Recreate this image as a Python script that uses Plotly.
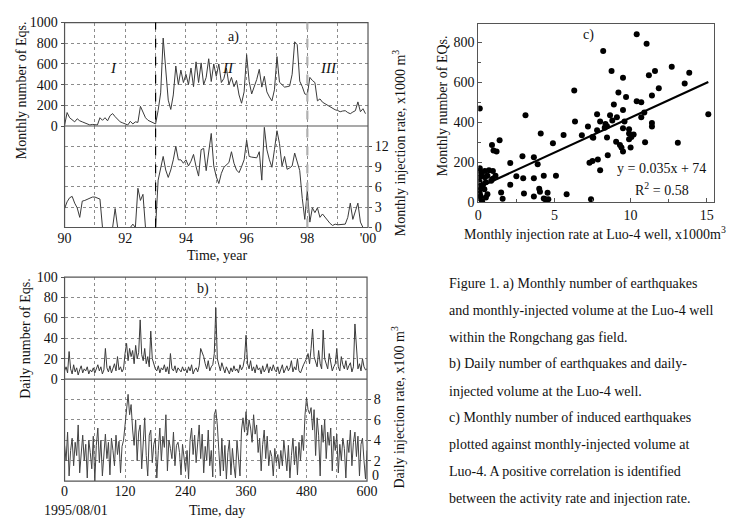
import plotly.graph_objects as go

W, H = 741, 525
FONT = "Liberation Serif, Times New Roman, serif"

# ---------------- Panel a: monthly data 1990-2000 ----------------
eq_monthly = [
    5, 130, 80, 60, 40, 70, 50, 40, 30, 20, 10, 15,            # 1990
    15, 10, 80, 55, 80, 50, 100, 120, 90, 60, 40, 30,          # 1991
    20, 10, 45, 20, 40, 35, 190, 140, 80, 55, 45, 30,          # 1992
    20, 150, 320, 850, 560, 250, 160, 300, 580, 400, 540, 420, # 1993
    500, 400, 560, 380, 620, 420, 610, 400, 470, 650, 430, 600,# 1994
    480, 600, 420, 460, 560, 400, 470, 380, 440, 300, 220, 330,# 1995
    690, 430, 310, 380, 450, 548, 376, 480, 330, 281, 243, 350,# 1996
    671, 423, 400, 376, 380, 386, 500, 814, 786, 433, 380, 310,# 1997
    300, 470, 440, 420, 243, 262, 230, 214, 200, 186, 170, 157,# 1998
    150, 138, 145, 148, 130, 119, 135, 148, 233, 138, 167, 119,# 1999
]
inj_monthly = [
    2.8, 3.8, 4.4, 4.6, 3.6, 2.9, 1.5, 3.9, 4.0, 4.2, 4.3, 4.5,
    4.5, 4.4, 4.2, 0, 0, 0, 0, 0, 2.8, 0, 0, 0,
    0, 0, 0, 0.5, 0, 5.8, 4.0, 4.9, 0, 0, 0, 0,
    0, 7.0, 9.0, 10.5, 8.5, 7.4, 8.5, 10.0, 12.0, 10.0, 10.0, 9.5,
    10.0, 9.1, 9.8, 10.8, 9.0, 7.6, 11.5, 11.7, 8.4, 11.0, 13.9, 9.1,
    7.5, 6.5, 8.0, 8.9, 9.2, 9.6, 11.2, 9.5, 8.5, 8.1, 9.0, 10.0,
    12.9, 10.5, 10.4, 10.3, 10.3, 11.2, 7.0, 14.8, 11.5, 10.0, 8.9, 11.5,
    14.3, 12.4, 9.1, 10.5, 8.6, 8.8, 9.1, 11.0, 9.5, 8.4, 4.3, 1.2,
    5.5, 0.8, 2.9, 2.2, 2.9, 1.5, 2.0, 1.5, 1.0, 0.6, 0.3, 0.5,
    0.4, 0.4, 0.4, 0.5, 1.5, 3.6, 1.2, 2.5, 3.6, 0.8, 0, 0,
]
years_a = [90 + m / 12 for m in range(len(eq_monthly))]
year_ticks = [90, 92, 94, 96, 98, 100]
year_labels = ["90", "92", "94", "96", "98", "'00"]
phase_bounds = [93.0, 98.0]
phase_names = ["I", "II", "III"]
phase_label_x = [91.6, 95.4, 98.7]

# ---------------- Panel b: daily data (every 3rd day) ----------------
eq_daily = [
    8, 12, 6, 27, 10, 5, 14, 7, 11, 4, 9, 13, 6, 10, 8, 12, 5, 9, 7, 11,
    6, 10, 14, 8, 12, 5, 9, 30, 11, 7, 13, 6, 10, 15, 8, 22, 9, 12, 7, 10,
    25, 35, 18, 30, 22, 28, 15, 33, 20, 26, 58, 24, 18, 30, 15, 22, 12, 47, 20, 14,
    10, 8, 13, 6, 11, 9, 14, 7, 12, 5, 25, 10, 8, 13, 6, 11, 9, 7, 12, 8,
    10, 6, 12, 8, 14, 5, 9, 11, 7, 13, 30, 26, 22, 15, 10, 18, 8, 12, 14, 25,
    70, 20, 12, 8, 16, 10, 6, 12, 9, 5, 11, 7, 13, 8, 10, 6, 14, 9, 12, 20,
    43, 15, 10, 18, 8, 12, 6, 14, 9, 11, 5, 13, 7, 10, 15, 6, 12, 8, 14, 9,
    7, 12, 5, 10, 14, 6, 9, 13, 8, 11, 18, 7, 12, 9, 20, 8, 6, 11, 14, 17,
    20, 25, 15, 30, 49, 22, 18, 12, 28, 15, 10, 48, 20, 14, 10, 25, 16, 8, 12, 15,
    30, 12, 8, 22, 14, 10, 18, 9, 13, 16, 7, 12, 54, 25, 10, 15, 8, 20, 12, 9,
    10,
]
inj_daily = [
    3.5, 2.0, 4.8, 0.5, 3.0, 4.2, 1.5, 3.8, 2.5, 5.5, 0.8, 3.2, 4.5, 2.0, 3.6, 0.3, 4.0, 2.8, 1.2, 4.4,
    0.0, 3.5, 5.2, 1.8, 4.0, 0.5, 3.2, 4.6, 2.2, 3.8, 0.6, 4.2, 3.0, 1.5, 4.5, 2.6, 3.9, 0.8, 3.4, 4.0,
    5.5, 7.0, 8.5, 6.5, 7.5, 5.0, 3.5, 6.0, 2.0, 4.8, 5.5, 1.2, 4.0, 6.2, 2.5, 0.5, 4.5, 5.0, 1.8, 3.6,
    4.2, 0.3, 3.0, 5.2, 2.0, 4.4, 3.3, 6.5, 1.0, 4.0, 3.2, 2.2, 4.8, 1.5, 3.5, 3.8, 2.8, 0.6, 3.6, 2.4,
    1.0, 3.0, 0.2, 4.0, 5.2, 2.6, 4.5, 1.8, 3.8, 5.5, 2.2, 4.6, 0.8, 3.4, 2.0, 5.0, 1.5, 3.0, 0.4, 6.5,
    7.0, 5.5, 3.0, 0.5, 4.2, 1.0, 3.5, 0.2, 2.8, 4.0, 0.6, 3.2, 1.5, 0.3, 4.0, 2.0, 0.5, 5.0, 6.2, 4.8,
    6.8, 4.5, 6.0, 5.2, 3.8, 6.5, 4.6, 5.5, 2.8, 4.2, 1.0, 3.6, 5.0, 2.2, 4.4, 1.5, 3.0, 2.4, 0.5, 3.2,
    1.8, 2.6, 1.2, 3.0, 1.5, 4.0, 2.2, 1.0, 3.5, 0.3, 2.5, 4.2, 1.6, 3.4, 0.6, 3.8, 2.0, 4.5, 3.0, 6.5,
    8.2, 7.0, 6.6, 7.2, 5.0, 7.0, 2.5, 6.2, 4.5, 0.5, 5.5, 3.8, 6.0, 2.2, 4.8, 3.5, 5.2, 1.0, 4.4, 3.0,
    4.6, 0.8, 3.6, 2.0, 4.2, 3.2, 0.3, 4.0, 2.8, 5.0, 1.5, 3.8, 4.8, 2.4, 4.4, 0.5, 3.6, 4.2, 2.0, 0.2,
    3.0,
]
days_b = list(range(0, 601, 3))
day_ticks = [0, 120, 240, 360, 480, 600]
day_labels = ["0", "120", "240", "360", "480", "600"]
inj_daily_ticks = [2, 4, 6, 8]

# ---------------- Panel c: scatter ----------------
inj_rate_c = [
    0.1, 0.1, 0.43, 0.7, 0.96, 0.1, 0.43, 0.6, 1.13, 0.1, 0.5, 0.1, 0.4, 0.1, 0.5, 0.1,
    0.85, 0.95, 0.2, 0.3, 0.15, 0.05, 0.25, 0.6, 0.1,
    0.9, 1.4, 1.0, 1.2, 2.1, 2.9, 3.65, 3.9, 7.3, 2.5, 2.95, 3.65, 4.3, 5.1, 2.1, 1.5,
    3.0, 3.65, 4.0, 4.05, 4.55, 5.8, 4.3, 4.4, 4.6, 1.6, 7.4,
    6.3, 3.1, 6.35, 7.2, 7.5, 4.1, 5.6, 6.8, 4.9,
    10.4, 11.05, 8.2, 8.75, 9.5, 11.2, 11.6, 12.7, 13.85, 13.55, 11.85, 11.4, 9.2, 9.7,
    10.4, 10.7, 8.9, 9.5, 8.65, 7.8, 9.1, 10.9, 10.7, 11.4, 11.4, 15.1, 8.0, 8.35, 8.45,
    8.3, 8.8, 9.6, 9.5, 9.9, 9.9, 10.05, 10.2, 9.9, 7.55, 7.8, 8.45, 9.05, 9.3, 9.4, 9.5,
    10.0, 10.95, 13.1, 8.5, 7.85, 7.5, 8.0,
]
eq_count_c = [
    470, 157, 157, 160, 157, 125, 125, 133, 133, 100, 100, 76, 65, 44, 24, 19,
    108, 118, 140, 85, 30, 60, 5, 40, 170,
    287, 310, 259, 254, 196, 230, 225, 190, 198, 130, 120, 120, 133, 133, 88, 49,
    44, 29, 68, 52, 47, 40, 19, 15, 15, 18, 15,
    559, 436, 404, 379, 327, 344, 337, 336, 295,
    841, 793, 757, 657, 623, 636, 657, 679, 648, 595, 571, 534, 550, 527,
    506, 501, 490, 462, 436, 441, 425, 449, 425, 397, 379, 441, 404, 392, 381,
    373, 409, 404, 371, 365, 344, 327, 339, 316, 323, 360, 324, 303, 287, 274, 254,
    274, 300, 298, 235, 214, 206, 160,
]
fit_x = [0.4, 15.1]
fit_y = [88, 602]
fit_text = ["y = 0.035x + 74", "R<sup>2</sup> = 0.58"]

caption = [
    "Figure 1. a) Monthly number of earthquakes",
    "and monthly-injected volume at the Luo-4 well",
    "within the Rongchang gas field.",
    "b) Daily number of earthquakes and daily-",
    "injected volume at the Luo-4 well.",
    "c) Monthly number of induced earthquakes",
    "plotted against monthly-injected volume at",
    "Luo-4. A positive correlation is identified",
    "between the activity rate and injection rate.",
]

# ---------------- geometry helpers (pixel -> paper) ----------------
def px(x):
    return x / W


def py(y):
    return 1 - y / H


LINE = "#3a3a3a"
GRID = "#8c8c8c"
FRAME = "#555555"

A_X = [px(59), px(370)]
A_TOP = [py(122.5), py(16)]
A_BOT = [py(227), py(122.5)]
B_X = [px(59), px(369)]
B_TOP = [py(383), py(278)]
B_BOT = [py(488), py(383)]
C_X = [px(483), px(725)]
C_Y = [py(201), py(18)]

fig = go.Figure()
fig.add_trace(go.Scatter(x=years_a, y=eq_monthly, mode="lines", xaxis="x", yaxis="y",
                         line=dict(color=LINE, width=1), showlegend=False))
fig.add_trace(go.Scatter(x=years_a, y=inj_monthly, mode="lines", xaxis="x", yaxis="y2",
                         line=dict(color=LINE, width=1), showlegend=False))
fig.add_trace(go.Scatter(x=days_b, y=eq_daily, mode="lines", xaxis="x3", yaxis="y3",
                         line=dict(color=LINE, width=1), showlegend=False))
fig.add_trace(go.Scatter(x=days_b, y=inj_daily, mode="lines", xaxis="x3", yaxis="y4",
                         line=dict(color="#444444", width=1), showlegend=False))
fig.add_trace(go.Scatter(x=inj_rate_c, y=eq_count_c, mode="markers", xaxis="x5", yaxis="y5",
                         marker=dict(color="black", size=6), showlegend=False))
fig.add_trace(go.Scatter(x=fit_x, y=fit_y, mode="lines", xaxis="x5", yaxis="y5",
                         line=dict(color="black", width=2.2), showlegend=False))

tickfont = dict(family=FONT, size=14, color="#111")
gridstyle = dict(showgrid=True, gridcolor=GRID, griddash="dot", gridwidth=1)
ygrid = dict(zeroline=False, showline=False, tickfont=tickfont, ticks="outside", ticklen=3,
             tickcolor=FRAME, **gridstyle)
xgrid = dict(zeroline=False, showline=False, tickfont=tickfont, ticks="", **gridstyle)
minor_grid = dict(ticks="", **gridstyle)

fig.update_layout(
    width=W, height=H, margin=dict(l=0, r=0, t=0, b=0),
    paper_bgcolor="white", plot_bgcolor="white",
    font=dict(family=FONT, size=14, color="#111"),
    xaxis=dict(domain=A_X, anchor="y2", range=[90, 100], tickvals=year_ticks,
               ticktext=year_labels, minor=dict(dtick=1, tick0=90, **minor_grid), **xgrid),
    yaxis=dict(domain=A_TOP, anchor="x", range=[0, 1000], tickvals=list(range(0, 1001, 200)), **ygrid),
    yaxis2=dict(domain=A_BOT, anchor="x", side="right", range=[0, 15], tickvals=[0, 3, 6, 9, 12], **ygrid),
    xaxis3=dict(domain=B_X, anchor="y4", range=[0, 600], tickvals=day_ticks,
                ticktext=day_labels, minor=dict(dtick=60, tick0=0, **minor_grid), **xgrid),
    yaxis3=dict(domain=B_TOP, anchor="x3", range=[0, 100], tickvals=list(range(0, 101, 20)), **ygrid),
    yaxis4=dict(domain=B_BOT, anchor="x3", side="right", range=[0, 10], tickvals=inj_daily_ticks, **ygrid),
    xaxis5=dict(domain=C_X, anchor="y5", range=[0, 15.5], tickvals=[0, 5, 10, 15],
                showgrid=False, zeroline=False, showline=True, mirror=True, linecolor=FRAME,
                ticks="inside", ticklen=4, tickcolor=FRAME, tickfont=tickfont,
                minor=dict(tickvals=[2.5, 7.5, 12.5], ticks="inside", ticklen=3, tickcolor=FRAME)),
    yaxis5=dict(domain=C_Y, anchor="x5", range=[0, 890], tickvals=list(range(0, 801, 200)),
                showgrid=False, zeroline=False, showline=True, mirror=True, linecolor=FRAME,
                ticks="inside", ticklen=4, tickcolor=FRAME, tickfont=tickfont,
                minor=dict(tickvals=[100, 300, 500, 700], ticks="inside", ticklen=3, tickcolor=FRAME)),
)

shapes = []
# panel frames and middle separators
for xs, ys_lo, ys_mid, ys_hi in [(A_X, A_BOT[0], A_TOP[0], A_TOP[1]), (B_X, B_BOT[0], B_TOP[0], B_TOP[1])]:
    shapes.append(dict(type="rect", xref="paper", yref="paper", x0=xs[0], x1=xs[1], y0=ys_lo, y1=ys_hi,
                       line=dict(color=FRAME, width=1.2)))
    shapes.append(dict(type="line", xref="paper", yref="paper", x0=xs[0], x1=xs[1], y0=ys_mid, y1=ys_mid,
                       line=dict(color=FRAME, width=1.2)))
# phase boundaries in panel a
shapes.append(dict(type="line", xref="x", yref="paper", x0=phase_bounds[0], x1=phase_bounds[0],
                   y0=A_BOT[0], y1=A_TOP[1], line=dict(color="black", width=1.2, dash="dash")))
shapes.append(dict(type="line", xref="x", yref="paper", x0=phase_bounds[1], x1=phase_bounds[1],
                   y0=A_BOT[0], y1=A_TOP[1], line=dict(color="#b0b0b0", width=2.2, dash="dash")))
fig.update_layout(shapes=shapes)

ann = []


def text(x, y, s, size=14, angle=0, xanchor="center", italic=False):
    ann.append(dict(x=px(x), y=py(y), xref="paper", yref="paper", text=s, showarrow=False,
                    textangle=angle, xanchor=xanchor, yanchor="middle",
                    font=dict(family=FONT, size=size, color="#111",
                              style="italic" if italic else "normal")))


# panel a
text(15, 86, "Monthly number of Eqs.", angle=-90)
text(402, 140, "Monthly injection rate, x1000 m<sup>3</sup>", angle=-90)
text(215, 256, "Time, year")
text(232, 31, "a)")
for nm, xv in zip(phase_names, phase_label_x):
    ann.append(dict(x=xv, y=py(52), xref="x", yref="paper", text=nm, showarrow=False,
                    font=dict(family=FONT, size=15, color="#111", style="italic")))
# panel b
text(19, 341, "Daily number of Eqs.", angle=-90)
text(401, 412, "Daily injection rate, x100 m<sup>3</sup>", angle=-90)
text(215, 518, "Time, day")
text(71, 518, "1995/08/01")
text(201, 290, "b)")
text(378, 482, "0")  # raised zero label of the daily injection axis
# panel c
text(446, 102, "Monthly number of EQs.", angle=-90)
text(603, 233, "Monthly injection rate at Luo-4 well, x1000m<sup>3</sup>")
text(596, 29, "c)")
text(671, 166, fit_text[0])
text(671, 187, fit_text[1])
# caption
for i, line in enumerate(caption):
    text(451, 285 + i * 27.6, line, xanchor="left")

fig.update_layout(annotations=ann)
fig.write_html("out.html", post_script="document.body.style.margin='0px';",
               config={"displayModeBar": False})
